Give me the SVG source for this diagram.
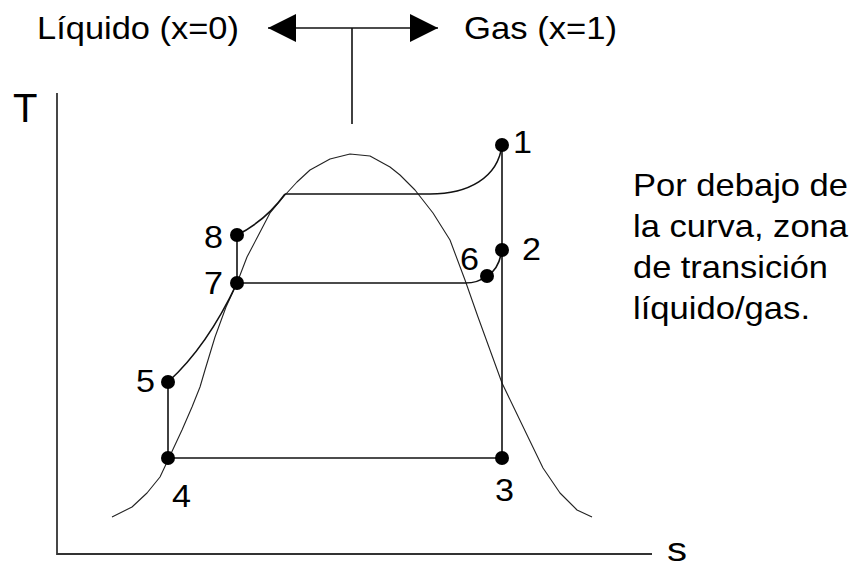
<svg xmlns="http://www.w3.org/2000/svg" width="853" height="569" viewBox="0 0 853 569">
<defs>
<style>
text{font-family:"Liberation Sans",Arial,sans-serif;fill:#000}
.lbl{font-size:31px}
.big{font-size:32px}
.ln{fill:none;stroke:#111;stroke-width:1.6}
.dome{fill:none;stroke:#222;stroke-width:1.1;stroke-linejoin:round}
.axis{fill:none;stroke:#333;stroke-width:1.8}
.dot{fill:#000}
</style>
<marker id="ah" viewBox="0 0 28 28" refX="28" refY="14" markerWidth="28" markerHeight="28" markerUnits="userSpaceOnUse" orient="auto">
<path d="M0,0 L28,14 L0,28 Z" fill="#000"/>
</marker>
</defs>
<rect width="853" height="569" fill="#fff"/>

<g id="legend">
<text class="big" x="37" y="39" textLength="202" lengthAdjust="spacingAndGlyphs">Líquido (x=0)</text>
<text class="big" x="464" y="39" textLength="153" lengthAdjust="spacingAndGlyphs">Gas (x=1)</text>
</g>

<g id="note">
<text class="big" x="633" y="196" textLength="215" lengthAdjust="spacingAndGlyphs">Por debajo de</text>
<text class="big" x="633" y="237" textLength="215" lengthAdjust="spacingAndGlyphs">la curva, zona</text>
<text class="big" x="633" y="278" textLength="195" lengthAdjust="spacingAndGlyphs">de transición</text>
<text class="big" x="633" y="319" textLength="177" lengthAdjust="spacingAndGlyphs">líquido/gas.</text>
</g>

<g id="axes">
<path class="axis" d="M57,93 V554 H652"/>
<text x="13" y="122" style="font-size:40px">T</text>
<text x="667" y="561" style="font-size:34px" textLength="20" lengthAdjust="spacingAndGlyphs">s</text>
</g>

<g id="dome">
<path class="dome" d="M112,517 L132,507 L147,493 L160,477 L168,460 L182,430 L192,407 L200,387 L205,370 L215,337 L226,307 L237,283 L247,257 L258,236 L270,213 L285,195 L297,182 L310,170 L330,159 L350,154 L370,156 L390,167 L400,175 L415,190 L433,213 L450,240 L465,280 L478,317 L490,350 L502,383 L515,410 L528,437 L543,468 L560,493 L577,510 L592,517"/>
</g>

<g id="connectors">
<path class="ln" d="M352,124 V28"/>
<path class="ln" d="M352,28 H268" marker-end="url(#ah)"/>
<path class="ln" d="M352,28 H438" marker-end="url(#ah)"/>
<path class="ln" d="M168,458 H502"/>
<path class="ln" d="M502,145 V458"/>
<path class="ln" d="M168,382 V458"/>
<path class="ln" d="M237,235 V283"/>
<path class="ln" d="M285,194 H430 C468,194 498,178 502,145"/>
<path class="ln" d="M237,235 C255,226 272,212 285,194"/>
<path class="ln" d="M168,382 C190,362 215,330 237,283"/>
<path class="ln" d="M502,250 C500,262 495,272 487,276"/>
<path class="ln" d="M237,283 H465 C475,283 482,280 487,276"/>
</g>

<g id="p1"><circle class="dot" cx="502" cy="145" r="7"/><text class="lbl" x="513" y="153" textLength="19" lengthAdjust="spacingAndGlyphs">1</text></g>
<g id="p2"><circle class="dot" cx="502" cy="250" r="7"/><text class="lbl" x="522" y="260" textLength="19" lengthAdjust="spacingAndGlyphs">2</text></g>
<g id="p3"><circle class="dot" cx="502" cy="458" r="7"/><text class="lbl" x="495" y="501" textLength="19" lengthAdjust="spacingAndGlyphs">3</text></g>
<g id="p4"><circle class="dot" cx="168" cy="458" r="7"/><text class="lbl" x="172" y="507" textLength="19" lengthAdjust="spacingAndGlyphs">4</text></g>
<g id="p5"><circle class="dot" cx="168" cy="382" r="7"/><text class="lbl" x="136" y="392" textLength="19" lengthAdjust="spacingAndGlyphs">5</text></g>
<g id="p6"><circle class="dot" cx="487" cy="276" r="7"/><text class="lbl" x="460" y="270" textLength="19" lengthAdjust="spacingAndGlyphs">6</text></g>
<g id="p7"><circle class="dot" cx="237" cy="283" r="7"/><text class="lbl" x="204" y="294" textLength="19" lengthAdjust="spacingAndGlyphs">7</text></g>
<g id="p8"><circle class="dot" cx="237" cy="235" r="7"/><text class="lbl" x="204" y="248" textLength="19" lengthAdjust="spacingAndGlyphs">8</text></g>
</svg>
